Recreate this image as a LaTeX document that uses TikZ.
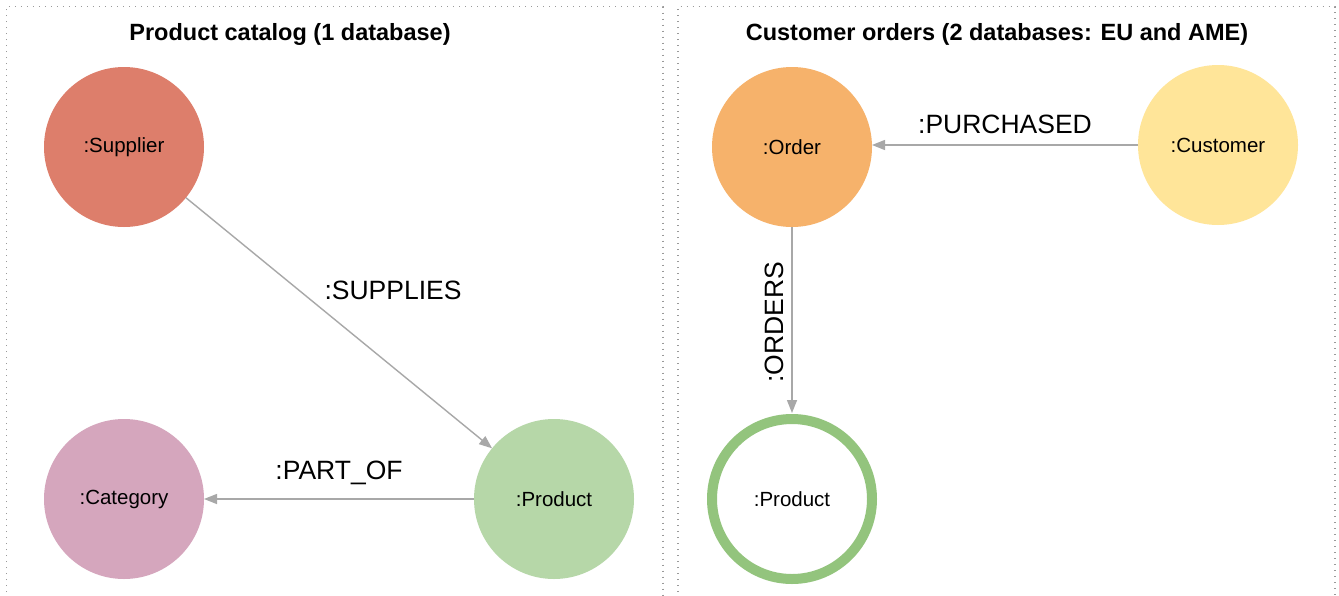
\documentclass[tikz,border=0pt]{standalone}
\usepackage{fontspec}
\setmainfont{Liberation Sans}
\usetikzlibrary{arrows.meta}
\definecolor{supc}{HTML}{DD7E6B}
\definecolor{catc}{HTML}{D5A6BD}
\definecolor{prodc}{HTML}{B6D7A8}
\definecolor{ordc}{HTML}{F6B26B}
\definecolor{cusc}{HTML}{FFE599}
\definecolor{ringc}{HTML}{93C47D}
\definecolor{edgec}{HTML}{A8A8A8}
\definecolor{panelc}{HTML}{9A9A9A}
\tikzset{
  entity/.style={circle, minimum size=160pt, inner sep=0pt, outer sep=0pt, font=\fontsize{20.5}{24}\selectfont},
  ring/.style={circle, minimum size=160pt, inner sep=0pt, outer sep=6pt, draw=ringc, line width=10pt, fill=white, font=\fontsize{20.5}{24}\selectfont},
  rel/.style={draw=edgec, line width=1.4pt, -{Triangle[length=13pt,width=10pt]}},
  rellabel/.style={font=\fontsize{26.5}{30}\selectfont, inner sep=0pt},
  paneltitle/.style={font=\bfseries\fontsize{23.5}{28}\selectfont, inner sep=0pt},
  panel/.style={draw=panelc, line width=1.3pt, dash pattern=on 1.3pt off 4.7pt}
}
\begin{document}
\begin{tikzpicture}[x=1pt,y=-1pt]
\useasboundingbox (0,0) rectangle (1339,595);
\clip (0,0) rectangle (1339,595);
\fill[white] (0,0) rectangle (1339,595);
% panels
\draw[panel] (6.5,610) -- (6.5,6.5) -- (663,6.5) -- (663,610);
\draw[panel] (678,610) -- (678,6.5) -- (1335,6.5) -- (1335,610);
\node[paneltitle] (t1) at (290,34) {Product catalog (1 database)};
\node[paneltitle] (t2) at (997,34) {Customer orders (2 databases: EU and AME)};
% left panel
\node[entity, fill=supc] (sup) at (124,147) {:Supplier};
\node[entity, fill=catc] (cat) at (124,499) {:Category};
\node[entity, fill=prodc] (prod) at (554,499) {:Product};
\draw[rel] (sup) -- (prod);
\draw[rel] (prod) -- (cat);
\node[rellabel] (lsup) at (393,290) {:SUPPLIES};
\node[rellabel] (lpart) at (339,473) {:PART\_OF};
% right panel
\node[entity, fill=ordc] (ord) at (792,147) {:Order};
\node[entity, fill=cusc] (cus) at (1218,145) {:Customer};
\node[ring] (prod2) at (792,499) {:Product};
\draw[rel] (cus) -- (ord.east |- cus.west);
\draw[rel] (ord) -- (prod2);
\node[rellabel] (lpur) at (1005,124) {:PURCHASED};
\node[rellabel, rotate=90] (lord) at (774,322) {:ORDERS};
\end{tikzpicture}
\end{document}
